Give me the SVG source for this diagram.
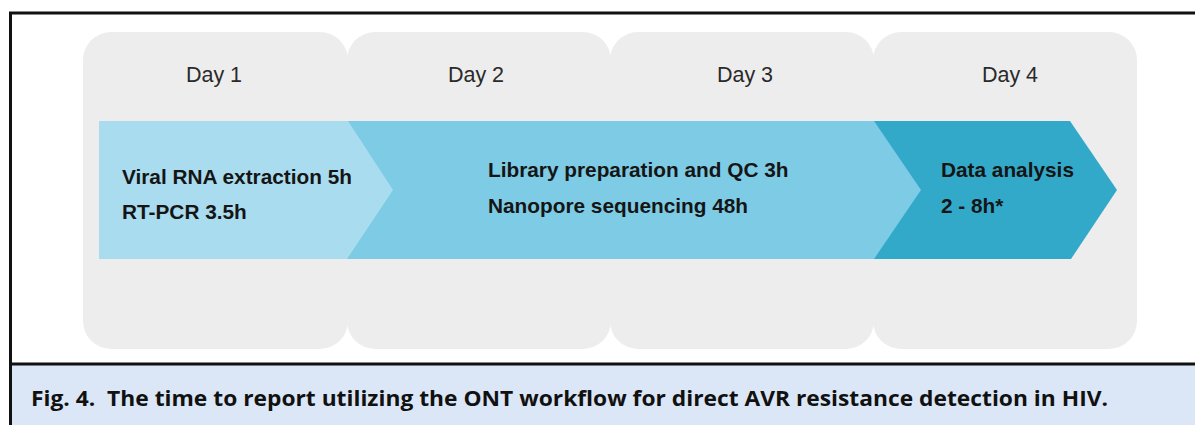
<svg xmlns="http://www.w3.org/2000/svg" width="1195" height="425" viewBox="0 0 1195 425">
<style>
.panel{fill:#ededed}
.day{font-family:"Liberation Sans",Arial,sans-serif;font-size:21.5px;fill:#2a2a2a;text-anchor:middle}
.lbl{font-family:"Liberation Sans",Arial,sans-serif;font-size:20.8px;font-weight:bold;fill:#151515}
.cap{font-family:"Open Sans",Lato,sans-serif;font-size:22px;font-weight:bold;fill:#111;white-space:pre}
</style>
<rect x="0" y="0" width="1195" height="425" fill="#ffffff"/>
<rect x="10" y="364" width="1185" height="61" fill="#dbe7f7"/>
<g id="frame" fill="none" stroke="#111" stroke-width="3">
<path d="M10.5 425 V13 H1195"/>
<path d="M10 364 H1195"/>
</g>
<g id="day1"><rect class="panel" x="83" y="32" width="265" height="317" rx="28"/><text class="day" x="214" y="82">Day 1</text></g>
<g id="day2"><rect class="panel" x="347" y="32" width="264" height="317" rx="28"/><text class="day" x="476" y="82">Day 2</text></g>
<g id="day3"><rect class="panel" x="610" y="32" width="264" height="317" rx="28"/><text class="day" x="745" y="82">Day 3</text></g>
<g id="day4"><rect class="panel" x="873" y="32" width="264" height="317" rx="28"/><text class="day" x="1010" y="82">Day 4</text></g>
<g id="step3"><polygon points="873,121 1070,121 1117,190 1071,259 873,259" fill="#33a9ca"/><text class="lbl" x="941" y="177">Data analysis</text><text class="lbl" x="941" y="213">2 - 8h*</text></g>
<g id="step2"><polygon points="347,121 874,121 921,190 874,259 347,259" fill="#7ecbe5"/><text class="lbl" x="488" y="177">Library preparation and QC 3h</text><text class="lbl" x="488" y="213">Nanopore sequencing 48h</text></g>
<g id="step1"><polygon points="99,121 348,121 393,190 347,259 99,259" fill="#aadcef"/><text class="lbl" x="122" y="184">Viral RNA extraction 5h</text><text class="lbl" x="122" y="219">RT-PCR 3.5h</text></g>
<g id="connectors"></g>
<text class="cap" x="31" y="406" textLength="1077" lengthAdjust="spacingAndGlyphs" xml:space="preserve">Fig. 4.  The time to report utilizing the ONT workflow for direct AVR resistance detection in HIV.</text>
</svg>
